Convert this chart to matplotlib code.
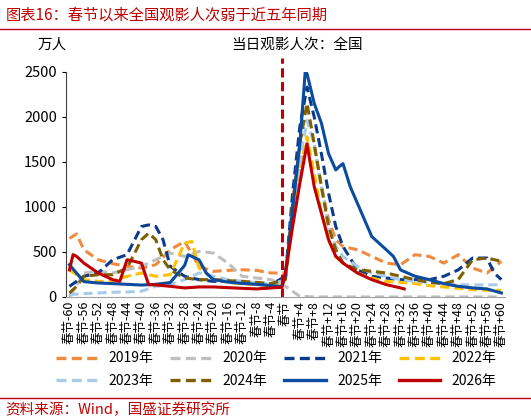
import matplotlib
matplotlib.use("Agg")
import matplotlib.pyplot as plt
from matplotlib.lines import Line2D

plt.rcParams['font.family'] = ['Noto Sans CJK SC', 'DejaVu Sans']

# 春节前后天数（横轴）与各年份当日观影人次（万人）
d_main = [-60, -56, -52, -48, -44, -40, -36, -32, -28, -24, -20, -16, -12, -8, -4, 0,
          2, 4, 6, 8, 10, 12, 14, 16, 20, 24, 28, 32, 36, 40, 44, 48, 52, 56, 60]

x2019 = [-60, -58] + d_main[1:]
y2019 = [650, 700, 524, 413, 369, 340, 321, 358, 524, 616, 340, 284, 295, 302, 295, 266, 266,
         856, 1410, 1700, 1670, 1225, 856, 635, 560, 524, 450, 376, 358, 469, 450, 376, 469, 321, 266, 395]

x2020 = [-60, -56, -52, -48, -44, -40, -36, -32, -28, -24, -20, -16, -12, -8, -4, 0, 4, 8, 20, 40, 60]
y2020 = [0, 266, 284, 266, 302, 340, 413, 487, 450, 505, 487, 376, 229, 210, 192, 118, 7, 0, 0, 0, 0]

x2021 = [-60, -56, -52, -48, -44, -40, -38, -36, -34, -32, -28, -24, -20, -16, -12, -8, -4, 0,
         2, 4, 6, 8, 10, 12, 14, 16, 20, 24, 28, 32, 36, 40, 44, 48, 52, 56, 58, 60]
y2021 = [118, 229, 266, 413, 469, 782, 800, 782, 635, 340, 229, 192, 173, 173, 155, 148, 137, 229,
         1150, 1890, 2330, 2000, 1590, 1150, 780, 560, 300, 229, 210, 192, 192, 192, 229, 300, 432, 432, 266, 192]

x2022 = [-60, -56, -52, -48, -44, -40, -36, -32, -28, -26, -24, -20, -16, -12, -8, -4, 0,
         2, 4, 6, 8, 10, 12, 14, 16, 20, 24, 28, 32, 36, 40, 44, 48, 52, 56, 60]
y2022 = [300, 192, 173, 173, 229, 266, 229, 247, 598, 616, 321, 210, 162, 148, 137, 125, 192,
         856, 1410, 1780, 1370, 930, 635, 450, 376, 266, 210, 173, 162, 148, 125, 111, 96, 81, 74, 74]

x2023 = d_main
y2023 = [26, 37, 44, 52, 55, 63, 118, 137, 192, 266, 229, 192, 173, 155, 137, 192,
         970, 1520, 1960, 1700, 1225, 780, 560, 450, 340, 266, 229, 192, 173, 162, 148, 137, 133, 133, 137]

x2024 = [-60, -58, -56, -52, -48, -44, -40, -38, -36, -34, -32, -28, -24, -20, -16, -12, -8, -4, 0,
         2, 4, 6, 8, 10, 12, 14, 16, 20, 24, 28, 32, 36, 40, 44, 48, 52, 56, 60]
y2024 = [44, 118, 229, 247, 247, 321, 635, 708, 635, 413, 302, 210, 192, 192, 181, 173, 162, 148, 192,
         1040, 1700, 2150, 1700, 1225, 780, 524, 376, 302, 284, 266, 229, 192, 162, 148, 192, 413, 432, 395]

x2025 = [-60, -56, -52, -48, -44, -40, -36, -32, -28, -27, -24, -22, -20, -16, -12, -8, -4, -1, 0,
         2, 4, 5.5, 6, 8, 10, 12, 14, 15, 16, 18, 20, 24, 28, 30, 32, 36, 40, 44, 48, 52, 56, 60]
y2025 = [358, 170, 155, 148, 140, 132, 140, 160, 350, 469, 413, 266, 192, 165, 150, 140, 125, 118, 230,
         970, 1700, 2500, 2480, 2150, 1930, 1590, 1410, 1450, 1480, 1225, 1040, 670, 525, 450, 300, 230,
         192, 148, 118, 100, 89, 44]

x2026 = [-60, -59, -58, -56, -52, -48, -46, -44, -42, -40, -38, -36, -32, -28, -24, -20, -16, -12, -8, -4, -1, 0,
         2, 4, 6, 8, 10, 12, 14, 16, 20, 24, 28, 32, 33]
y2026 = [300, 470, 450, 376, 266, 192, 173, 413, 395, 376, 137, 133, 118, 100, 111, 111, 103, 96, 89, 100, 107, 266,
         780, 1260, 1700, 1225, 930, 635, 450, 376, 266, 192, 137, 100, 89]

series = [
    ("2019年", x2019, y2019, "#F08A3E", (0, (3, 1.6))),
    ("2020年", x2020, y2020, "#BFBFBF", (0, (3, 1.6))),
    ("2021年", x2021, y2021, "#0B3C8C", (0, (3, 1.6))),
    ("2022年", x2022, y2022, "#FFC000", (0, (3, 1.6))),
    ("2023年", x2023, y2023, "#A9CBEA", (0, (3, 1.6))),
    ("2024年", x2024, y2024, "#7F6000", (0, (3, 1.6))),
    ("2025年", x2025, y2025, "#0B4CA0", "-"),
    ("2026年", x2026, y2026, "#C00000", "-"),
]

tick_days = list(range(-60, 61, 4))
tick_labels = ["春节" if t == 0 else ("春节%+d" % t) for t in tick_days]

fig = plt.figure(figsize=(5.31, 4.2), dpi=100)
ax = fig.add_axes([0.124, 0.293, 0.827, 0.536])

for name, xs, ys, c, ls in series:
    ax.plot(xs, ys, color=c, linestyle=ls, lw=2.2, label=name)

ax.plot([-1, -1], [0, 2650], color="#C00000", lw=2.2, linestyle=(0, (3, 1.5)), clip_on=False)

ax.set_xlim(-61, 61)
ax.set_ylim(0, 2500)
ax.set_yticks(range(0, 2501, 500))
ax.set_xticks(tick_days)
ax.set_xticklabels(tick_labels, rotation=90, fontsize=9)
ax.tick_params(axis='y', labelsize=10.5, length=3)
ax.tick_params(axis='x', length=0, pad=3)
for s in ["top", "right"]:
    ax.spines[s].set_visible(False)
ax.spines["left"].set_color("#404040")
ax.spines["bottom"].set_color("#A0A0A0")

fig.text(0.07, 0.885, "万人", fontsize=10.5)
fig.text(0.56, 0.885, "当日观影人次：全国", fontsize=10.5, ha="center")

# legend fills column-wise, reorder so rows read 2019-2022 / 2023-2026
order = [0, 4, 1, 5, 2, 6, 3, 7]
handles = [Line2D([0], [0], color=series[i][3], linestyle=series[i][4], lw=2.4) for i in order]
fig.legend(handles, [series[i][0] for i in order], loc="center", bbox_to_anchor=(0.52, 0.12), ncol=4,
           frameon=False, fontsize=10, handlelength=3, columnspacing=1.2, labelspacing=0.6)

fig.text(0.01, 0.965, "图表16：春节以来全国观影人次弱于近五年同期", fontsize=11, color="#C00000",
         style="italic", va="center")
fig.add_artist(Line2D([0.0, 1.0], [0.93, 0.93], color="#C00000", lw=1))
fig.add_artist(Line2D([0.0, 1.0], [0.052, 0.052], color="#C00000", lw=1))
fig.text(0.01, 0.025, "资料来源：Wind，国盛证券研究所", fontsize=10.5, color="#C00000",
         style="italic", va="center")

fig.savefig("out.png", dpi=100)
